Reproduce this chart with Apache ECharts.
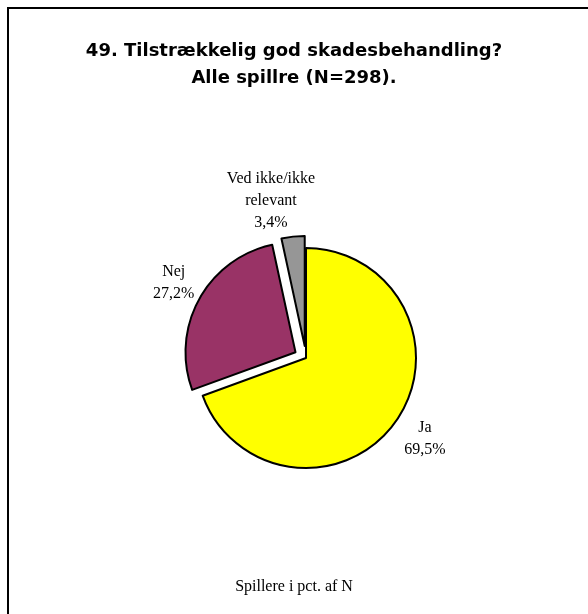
<!DOCTYPE html>
<html>
<head>
<meta charset="utf-8">
<script src="https://cdn.jsdelivr.net/npm/echarts@6/dist/echarts.min.js"></script>
<style>
  html, body { margin: 0; padding: 0; background: #fff; }
  #chart { width: 588px; height: 614px; }
</style>
</head>
<body>
<div id="chart"></div>
<script>
const categories = ['Ja', 'Nej', 'Ved ikke/ikke\nrelevant'];
const values = [69.5, 27.2, 3.4];
const colors = ['#FFFF00', '#993366', '#969696'];
const exploded = [false, true, true];
const titleText = '49. Tilstrækkelig god skadesbehandling?\nAlle spillre (N=298).';
const footerText = 'Spillere i pct. af N';

const fmt = v => v.toFixed(1).replace('.', ',') + '%';

const center = [306, 358];
const R = 110;
// small label nudges (styling only)
const labelNudge = [[5, 1], [0, -2], [-19, -7]];

const mainData = categories.map((c, i) => ({
  name: c, value: values[i], selected: exploded[i],
  itemStyle: { color: colors[i] }
}));
const labelData = categories.map((c, i) => ({
  name: c, value: values[i], selected: exploded[i]
}));

const chart = echarts.init(document.getElementById('chart'), null, { renderer: 'canvas' });
chart.setOption({
  animation: false,
  backgroundColor: '#ffffff',
  title: [{
    text: titleText,
    left: 'center',
    top: 33,
    textStyle: {
      fontFamily: 'DejaVu Sans', fontWeight: 'bold', fontSize: 18,
      lineHeight: 27, color: '#000'
    }
  }, {
    text: footerText,
    left: 'center',
    top: 574,
    textStyle: {
      fontFamily: 'Liberation Serif', fontWeight: 'normal', fontSize: 16,
      color: '#000'
    }
  }],
  graphic: [{
    type: 'rect',
    shape: { x: 8, y: 8, width: 700, height: 700 },
    style: { fill: 'none', stroke: '#000', lineWidth: 2 },
    silent: true
  }],
  series: [{
    type: 'pie',
    center: center,
    radius: [0, R],
    startAngle: 90,
    clockwise: true,
    selectedMode: 'multiple',
    selectedOffset: 12,
    avoidLabelOverlap: false,
    label: { show: false },
    labelLine: { show: false },
    itemStyle: { borderColor: '#000', borderWidth: 2 },
    emphasis: { disabled: true },
    select: { itemStyle: { borderColor: '#000', borderWidth: 2 } },
    data: mainData,
    silent: true
  }, {
    type: 'pie',
    center: center,
    radius: [0, 272],
    startAngle: 90,
    clockwise: true,
    selectedMode: 'multiple',
    selectedOffset: 12,
    avoidLabelOverlap: false,
    itemStyle: { color: 'rgba(0,0,0,0)', borderWidth: 0 },
    select: { itemStyle: { color: 'rgba(0,0,0,0)', borderWidth: 0 } },
    emphasis: { disabled: true },
    labelLine: { show: false },
    label: {
      show: true,
      position: 'inside',
      formatter: p => p.name + '\n' + fmt(p.value),
      fontFamily: 'Liberation Serif',
      fontSize: 16,
      lineHeight: 22,
      color: '#000'
    },
    labelLayout: p => ({ dx: labelNudge[p.dataIndex][0], dy: labelNudge[p.dataIndex][1] }),
    data: labelData,
    silent: true,
    z: 3
  }]
});
</script>
</body>
</html>
